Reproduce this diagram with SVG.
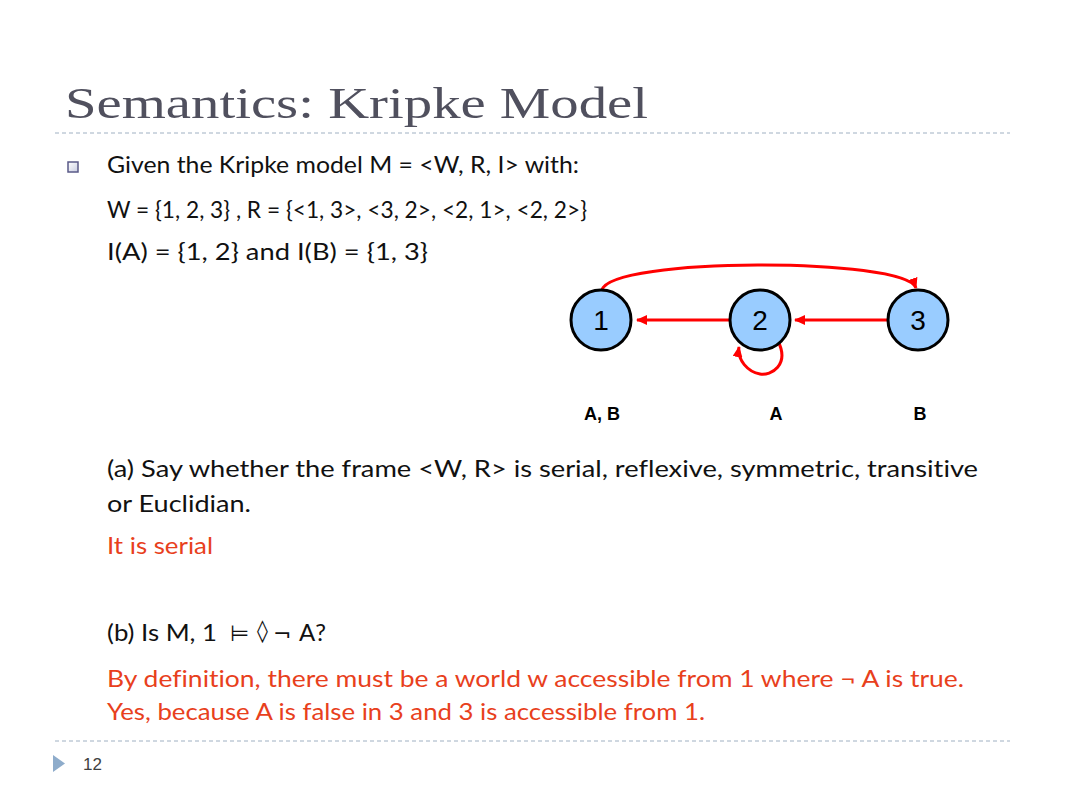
<svg xmlns="http://www.w3.org/2000/svg" width="1066" height="800" viewBox="0 0 1066 800">
<style>
.title{font-family:"Liberation Serif","DejaVu Serif",serif;font-size:45px;fill:#50505e}
.body{font-family:Lato,"Liberation Sans",sans-serif;font-size:24px;fill:#111;font-variant-ligatures:none}
.red{font-family:Lato,"Liberation Sans",sans-serif;font-size:24px;fill:#e8401c;font-variant-ligatures:none}
.sym{font-family:"DejaVu Sans",sans-serif;font-size:22px;fill:#111}
.node{fill:#99ccff;stroke:#000;stroke-width:3}
.num{font-family:"Liberation Sans",Arial,sans-serif;font-size:28px;fill:#000;text-anchor:middle}
.lbl{font-family:"Liberation Sans",Arial,sans-serif;font-size:18px;font-weight:bold;fill:#000;text-anchor:middle}
.edge{fill:none;stroke:#ff0000;stroke-width:3}
.rule{stroke:#9fb0c2;stroke-width:1;stroke-dasharray:4 3}
</style>
<defs>
<marker id="arr" markerUnits="userSpaceOnUse" markerWidth="12" markerHeight="10" refX="10" refY="5" orient="auto">
<path d="M0,0 L11,5 L0,10 z" fill="#ff0000"/>
</marker>
<linearGradient id="bul" x1="0" y1="0" x2="1" y2="1">
<stop offset="0" stop-color="#ffffff"/>
<stop offset="1" stop-color="#c8cce0"/>
</linearGradient>
</defs>
<rect width="1066" height="800" fill="#fff"/>
<text class="title" x="65" y="118" textLength="583" lengthAdjust="spacingAndGlyphs">Semantics: Kripke Model</text>
<line class="rule" x1="55" y1="133" x2="1010" y2="133"/>
<rect x="68" y="162" width="10" height="10" fill="url(#bul)" stroke="#5a5a88" stroke-width="1.5"/>
<text class="body" x="107" y="173" textLength="472" lengthAdjust="spacingAndGlyphs">Given the Kripke model M = &lt;W, R, I&gt; with:</text>
<text class="body" x="107" y="218" textLength="480" lengthAdjust="spacingAndGlyphs">W = {1, 2, 3} , R = {&lt;1, 3&gt;, &lt;3, 2&gt;, &lt;2, 1&gt;, &lt;2, 2&gt;}</text>
<text class="body" x="107" y="260" textLength="321" lengthAdjust="spacingAndGlyphs">I(A) = {1, 2} and I(B) = {1, 3}</text>
<g id="connectors">
<path class="edge" d="M602,290 C610,257 905,257 916,288" marker-end="url(#arr)"/>
<path class="edge" d="M730,320 L637,320" marker-end="url(#arr)"/>
<path class="edge" d="M888,320 L795,320" marker-end="url(#arr)"/>
<path class="edge" d="M778,341 C790,365 771,376 760,374 C748,372 737,360 739,347" marker-end="url(#arr)"/>
</g>
<g id="node1"><circle class="node" cx="601" cy="320" r="30"/><text class="num" x="601" y="330">1</text></g>
<g id="node2"><circle class="node" cx="760" cy="320" r="30"/><text class="num" x="760" y="330">2</text></g>
<g id="node3"><circle class="node" cx="918" cy="320" r="30"/><text class="num" x="918" y="330">3</text></g>
<text class="lbl" x="602" y="420">A, B</text>
<text class="lbl" x="776" y="420">A</text>
<text class="lbl" x="920" y="420">B</text>
<text class="body" x="107" y="477" textLength="871" lengthAdjust="spacingAndGlyphs">(a) Say whether the frame &lt;W, R&gt; is serial, reflexive, symmetric, transitive</text>
<text class="body" x="107" y="512" textLength="144" lengthAdjust="spacingAndGlyphs">or Euclidian.</text>
<text class="red" x="107" y="554" textLength="106" lengthAdjust="spacingAndGlyphs">It is serial</text>
<text class="body" x="107" y="641" textLength="110" lengthAdjust="spacingAndGlyphs">(b) Is M, 1</text>
<text class="sym" x="230" y="641">⊨</text>
<text class="sym" x="257" y="638">◊</text>
<text class="sym" x="273" y="641">¬</text>
<text class="body" x="299" y="641">A?</text>
<text class="red" x="107" y="687" textLength="857" lengthAdjust="spacingAndGlyphs">By definition, there must be a world w accessible from 1 where ¬ A is true.</text>
<text class="red" x="107" y="720" textLength="598" lengthAdjust="spacingAndGlyphs">Yes, because A is false in 3 and 3 is accessible from 1.</text>
<line class="rule" x1="55" y1="741" x2="1010" y2="741"/>
<polygon points="53,755 65,763.5 53,772" fill="#8eaccb"/>
<text x="83" y="770" font-family="'Liberation Sans',Arial,sans-serif" font-size="17" fill="#404040">12</text>
</svg>
